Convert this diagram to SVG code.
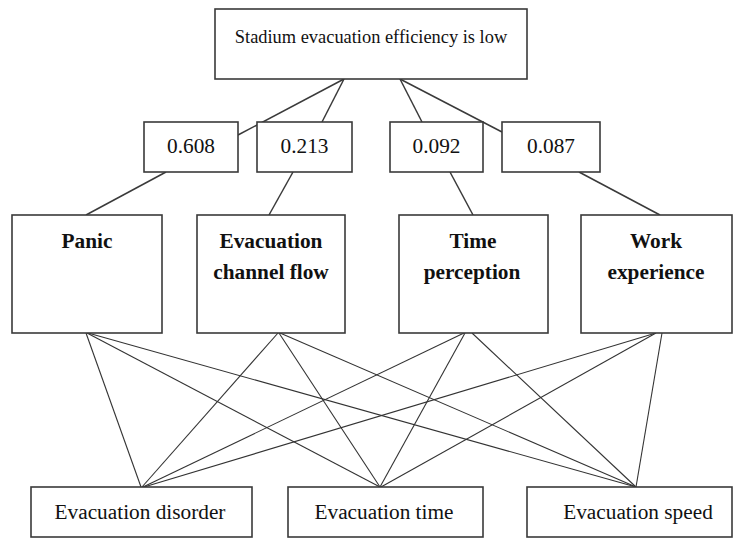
<svg xmlns="http://www.w3.org/2000/svg" width="736" height="539" viewBox="0 0 736 539">
<style>
.box{fill:#fff;stroke:#3a3a3a;stroke-width:1.6}
.t{font-family:"Liberation Serif","Times New Roman",serif;font-size:21.3px;fill:#111;text-anchor:middle}
.b{font-weight:bold}
.top{font-size:18.4px}
.c{stroke:#3a3a3a;stroke-width:1.5;fill:none}
.x{stroke:#333;stroke-width:1.1;fill:none}
</style>
<rect width="736" height="539" fill="#fff"/>
<g id="connectors">
<line class="c" x1="344" y1="79" x2="238" y2="135"/>
<line class="c" x1="344" y1="79" x2="322" y2="122"/>
<line class="c" x1="400" y1="79" x2="422" y2="122"/>
<line class="c" x1="400" y1="79" x2="502" y2="132"/>
<line class="c" x1="166" y1="172" x2="86" y2="215"/>
<line class="c" x1="293" y1="172" x2="269" y2="215"/>
<line class="c" x1="450" y1="172" x2="473" y2="215"/>
<line class="c" x1="579" y1="172" x2="660" y2="215"/>
<line class="x" x1="86" y1="333" x2="141" y2="487"/>
<line class="x" x1="87" y1="333" x2="380" y2="487"/>
<line class="x" x1="88" y1="333" x2="636" y2="487"/>
<line class="x" x1="278" y1="333" x2="142" y2="487"/>
<line class="x" x1="279" y1="333" x2="380" y2="487"/>
<line class="x" x1="280" y1="333" x2="636" y2="487"/>
<line class="x" x1="464" y1="333" x2="143" y2="487"/>
<line class="x" x1="465" y1="333" x2="380" y2="487"/>
<line class="x" x1="472" y1="333" x2="636" y2="487"/>
<line class="x" x1="656" y1="333" x2="144" y2="487"/>
<line class="x" x1="656" y1="333" x2="381" y2="487"/>
<line class="x" x1="662" y1="333" x2="636" y2="487"/>
</g>
<g id="goal">
<rect class="box" x="215" y="9" width="312" height="70"/>
<text class="t top" x="371" y="43">Stadium evacuation efficiency is low</text>
</g>
<g id="w1">
<rect class="box" x="144" y="122" width="94" height="50"/>
<text class="t" x="191" y="153">0.608</text>
</g>
<g id="w2">
<rect class="box" x="257" y="122" width="95" height="50"/>
<text class="t" x="304.5" y="153">0.213</text>
</g>
<g id="w3">
<rect class="box" x="390" y="122" width="93" height="50"/>
<text class="t" x="436.5" y="153">0.092</text>
</g>
<g id="w4">
<rect class="box" x="502" y="122" width="98" height="50"/>
<text class="t" x="551" y="153">0.087</text>
</g>
<g id="panic">
<rect class="box" x="12" y="215" width="150" height="118"/>
<text class="t b" x="87" y="248">Panic</text>
</g>
<g id="channel">
<rect class="box" x="197" y="215" width="148" height="118"/>
<text class="t b" x="271" y="248">Evacuation</text>
<text class="t b" x="271" y="279">channel flow</text>
</g>
<g id="time">
<rect class="box" x="399" y="215" width="149" height="118"/>
<text class="t b" x="473" y="248">Time</text>
<text class="t b" x="472" y="279">perception</text>
</g>
<g id="work">
<rect class="box" x="581" y="215" width="151" height="118"/>
<text class="t b" x="656" y="248">Work</text>
<text class="t b" x="656" y="279">experience</text>
</g>
<g id="disorder">
<rect class="box" x="31" y="487" width="221" height="50"/>
<text class="t" x="140" y="519">Evacuation disorder</text>
</g>
<g id="evtime">
<rect class="box" x="288" y="487" width="195" height="50"/>
<text class="t" x="384" y="519">Evacuation time</text>
</g>
<g id="speed">
<rect class="box" x="527" y="487" width="205" height="50"/>
<text class="t" x="638" y="519">Evacuation speed</text>
</g>
</svg>
